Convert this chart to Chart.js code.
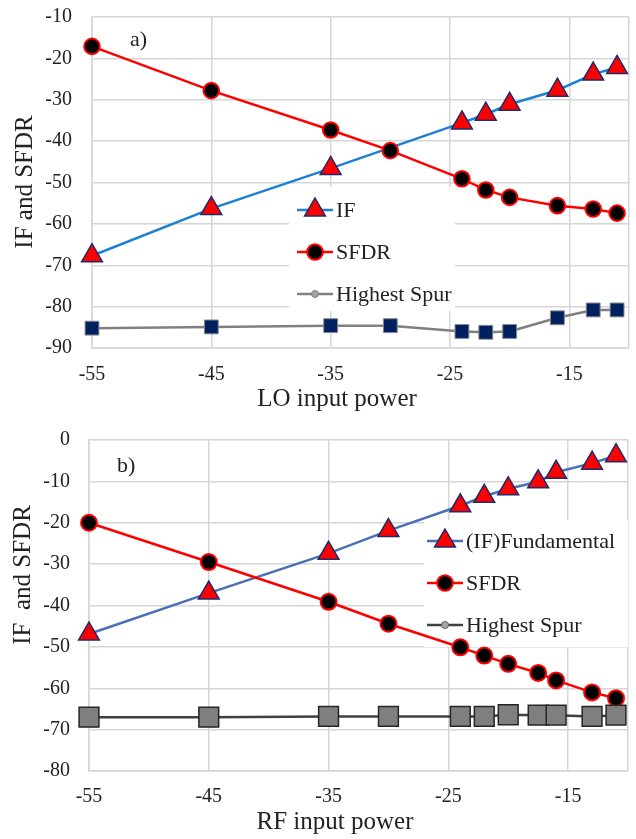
<!DOCTYPE html>
<html>
<head>
<meta charset="utf-8">
<script src="https://cdn.jsdelivr.net/npm/chart.js@4.4.1/dist/chart.umd.min.js"></script>
<style>
    html, body { margin: 0; padding: 0; background: #fff; overflow: hidden; }
    .panel { position: relative; width: 636px; }
    #panelA { height: 420px; }
    #panelB { height: 419px; }
</style>
</head>
<body>
<div class="panel" id="panelA"><canvas id="chartA"></canvas></div>
<div class="panel" id="panelB"><canvas id="chartB"></canvas></div>
<script>
// a) LO sweep
const loPower   = [-55, -45, -35, -30, -24, -22, -20, -16, -13, -11];
const loIfPower = [-55, -45, -35, -24, -22, -20, -16, -13, -11];
const loIf      = [-67.7, -56.3, -46.6, -35.6, -33.5, -31.1, -27.7, -23.8, -22.2];
const loSfdr    = [-17.1, -27.8, -37.3, -42.3, -49.1, -51.8, -53.6, -55.6, -56.4, -57.4];
const loSpur    = [-85.2, -84.9, -84.6, -84.6, -86.0, -86.2, -86.0, -82.7, -80.8, -80.8];

// b) RF sweep
const rfPower = [-55, -45, -35, -30, -24, -22, -20, -17.5, -16, -13, -11];
const rfIf    = [-46.9, -37.0, -27.4, -21.9, -15.9, -13.6, -11.8, -10.1, -7.8, -5.6, -3.8];
const rfSfdr  = [-20.0, -29.5, -39.1, -44.4, -50.1, -52.1, -54.1, -56.3, -58.1, -61.0, -62.4];
const rfSpur  = [-67.0, -67.0, -66.8, -66.8, -66.8, -66.8, -66.4, -66.5, -66.5, -66.8, -66.5];

const xTicks = [-55, -45, -35, -25, -15, -10];

const FONT = "'Liberation Serif', 'Times New Roman', serif";
const TEXT = '#222';
const GRID = '#d6d6d6';

Chart.defaults.font.family = FONT;
Chart.defaults.color = TEXT;

function pts(xs, ys) {
    return xs.map((x, i) => ({ x: x, y: ys[i] }));
}

// small marker drawer for the legend samples
function marker(ctx, s) {
    ctx.save();
    ctx.fillStyle = s.fill;
    ctx.strokeStyle = s.stroke;
    ctx.lineWidth = s.bw;
    ctx.beginPath();
    if (s.style === 'triangle') {
        ctx.moveTo(s.x, s.y - s.r);
        ctx.lineTo(s.x + s.r * 0.866, s.y + s.r / 2);
        ctx.lineTo(s.x - s.r * 0.866, s.y + s.r / 2);
        ctx.closePath();
    } else {
        ctx.arc(s.x, s.y, s.r, 0, Math.PI * 2);
    }
    ctx.fill();
    ctx.stroke();
    ctx.restore();
}

const extras = {
    id: 'extras',
    beforeDatasetsDraw(chart, args, o) {
        const ctx = chart.ctx;
        const lg = o.legend;
        ctx.save();
        ctx.fillStyle = '#fff';
        ctx.fillRect(lg.box[0], lg.box[1], lg.box[2], lg.box[3]);
        ctx.font = '22px ' + FONT;
        ctx.textBaseline = 'middle';
        ctx.textAlign = 'left';
        lg.items.forEach((it, i) => {
            const y = lg.rows[i];
            ctx.strokeStyle = it.line;
            ctx.lineWidth = it.lw;
            ctx.beginPath();
            ctx.moveTo(lg.x, y);
            ctx.lineTo(lg.x + 36, y);
            ctx.stroke();
            marker(ctx, Object.assign({ x: lg.x + 18, y: y }, it.mk));
            ctx.fillStyle = TEXT;
            ctx.fillText(it.text, lg.x + 39, y + 1);
        });
        ctx.restore();
    },
    afterDraw(chart, args, o) {
        const ctx = chart.ctx;
        ctx.save();
        ctx.fillStyle = TEXT;
        ctx.font = '25px ' + FONT;
        ctx.textAlign = 'center';
        ctx.textBaseline = 'middle';
        ctx.fillText(o.xTitle[0], o.xTitle[1], o.xTitle[2]);
        ctx.save();
        ctx.translate(o.yTitle[1], o.yTitle[2]);
        ctx.rotate(-Math.PI / 2);
        ctx.fillText(o.yTitle[0], 0, 0);
        ctx.restore();
        ctx.font = '22px ' + FONT;
        ctx.textAlign = 'left';
        ctx.textBaseline = 'alphabetic';
        ctx.fillText(o.tag[0], o.tag[1], o.tag[2]);
        ctx.restore();
    }
};

function makeChart(id, g) {
    return new Chart(document.getElementById(id), {
        type: 'line',
        data: { datasets: g.datasets },
        options: {
            responsive: true,
            maintainAspectRatio: false,
            animation: false,
            devicePixelRatio: 1,
            events: [],
            layout: { autoPadding: false, padding: { top: g.top, right: g.right, left: 0, bottom: 0 } },
            scales: {
                x: {
                    type: 'linear',
                    min: -55,
                    max: -10,
                    afterBuildTicks: s => { s.ticks = xTicks.map(v => ({ value: v })); },
                    // fixed axis band; tick padding must not push the plot box in
                    afterFit: s => { s.height = g.xHeight; s.paddingLeft = 0; s.paddingRight = 0; },
                    ticks: {
                        padding: g.xPad,
                        maxRotation: 0,
                        autoSkip: false,
                        font: { size: 20 },
                        callback: v => (v === -10 ? '' : v)
                    },
                    grid: { color: GRID, lineWidth: 1.5, drawTicks: false },
                    border: { color: GRID, width: 1.5 }
                },
                y: {
                    min: g.yMin,
                    max: g.yMax,
                    afterFit: s => { s.width = g.yWidth; s.paddingTop = 0; s.paddingBottom = 0; },
                    ticks: { stepSize: 10, padding: g.yPad, font: { size: 20 } },
                    grid: { color: GRID, lineWidth: 1.5, drawTicks: false },
                    border: { color: GRID, width: 1.5 }
                }
            },
            plugins: {
                legend: { display: false },
                tooltip: { enabled: false },
                extras: g.extras
            }
        },
        plugins: [extras]
    });
}

const ifMarker   = { style: 'triangle', r: 12, fill: '#ff0000', stroke: '#1f2a6b', bw: 1.5 };
const sfdrMarker = { style: 'circle', r: 7.8, fill: '#000000', stroke: '#ff0000', bw: 2 };

makeChart('chartA', {
    top: 17, right: 7, xHeight: 72, yWidth: 92, xPad: 15, yPad: 20,
    yMin: -90, yMax: -10,
    datasets: [
        {
            label: 'IF', data: pts(loIfPower, loIf), order: 3, clip: false,
            borderColor: '#1f80d2', borderWidth: 2.5, tension: 0,
            pointStyle: 'triangle', pointRadius: 12,
            pointBackgroundColor: '#ff0000', pointBorderColor: '#1f2a6b', pointBorderWidth: 1.5
        },
        {
            label: 'SFDR', data: pts(loPower, loSfdr), order: 2, clip: false,
            borderColor: '#ff0000', borderWidth: 2.5, tension: 0,
            pointStyle: 'circle', pointRadius: 7.8,
            pointBackgroundColor: '#000000', pointBorderColor: '#ff0000', pointBorderWidth: 2
        },
        {
            label: 'Highest Spur', data: pts(loPower, loSpur), order: 1, clip: false,
            borderColor: '#808080', borderWidth: 2.5, tension: 0,
            pointStyle: 'rect', pointRadius: 9.8,
            pointBackgroundColor: '#002060', pointBorderColor: '#8a8a8a', pointBorderWidth: 1
        }
    ],
    extras: {
        xTitle: ['LO input power', 337, 399],
        yTitle: ['IF and SFDR', 25, 182],
        tag: ['a)', 130, 46],
        legend: {
            box: [289, 187, 166, 124],
            x: 297,
            rows: [210, 252, 294],
            items: [
                { text: 'IF', line: '#1f80d2', lw: 2.5, mk: ifMarker },
                { text: 'SFDR', line: '#ff0000', lw: 2.5, mk: sfdrMarker },
                { text: 'Highest Spur', line: '#808080', lw: 2.5,
                  mk: { style: 'circle', r: 3.5, fill: '#a6a6a6', stroke: '#808080', bw: 1 } }
            ]
        }
    }
});

makeChart('chartB', {
    top: 20, right: 8, xHeight: 68, yWidth: 89, xPad: 14, yPad: 19,
    yMin: -80, yMax: 0,
    datasets: [
        {
            label: '(IF)Fundamental', data: pts(rfPower, rfIf), order: 3, clip: false,
            borderColor: '#4a6fb5', borderWidth: 2.5, tension: 0,
            pointStyle: 'triangle', pointRadius: 12,
            pointBackgroundColor: '#ff0000', pointBorderColor: '#1f2a6b', pointBorderWidth: 1.5
        },
        {
            label: 'SFDR', data: pts(rfPower, rfSfdr), order: 2, clip: false,
            borderColor: '#ff0000', borderWidth: 2.5, tension: 0,
            pointStyle: 'circle', pointRadius: 8,
            pointBackgroundColor: '#000000', pointBorderColor: '#ff0000', pointBorderWidth: 2
        },
        {
            label: 'Highest Spur', data: pts(rfPower, rfSpur), order: 1, clip: false,
            borderColor: '#404040', borderWidth: 2.5, tension: 0,
            pointStyle: 'rect', pointRadius: 14,
            pointBackgroundColor: '#7f7f7f', pointBorderColor: '#262626', pointBorderWidth: 1.5
        }
    ],
    extras: {
        xTitle: ['RF input power', 335, 402],
        yTitle: ['IF  and SFDR', 23, 155],
        tag: ['b)', 117, 52],
        legend: {
            box: [424, 100, 204, 127],
            x: 427,
            rows: [121, 163, 205],
            items: [
                { text: '(IF)Fundamental', line: '#4a6fb5', lw: 2.5, mk: ifMarker },
                { text: 'SFDR', line: '#ff0000', lw: 2.5, mk: sfdrMarker },
                { text: 'Highest Spur', line: '#404040', lw: 2.5,
                  mk: { style: 'circle', r: 3.5, fill: '#a6a6a6', stroke: '#606060', bw: 1 } }
            ]
        }
    }
});
</script>
</body>
</html>
